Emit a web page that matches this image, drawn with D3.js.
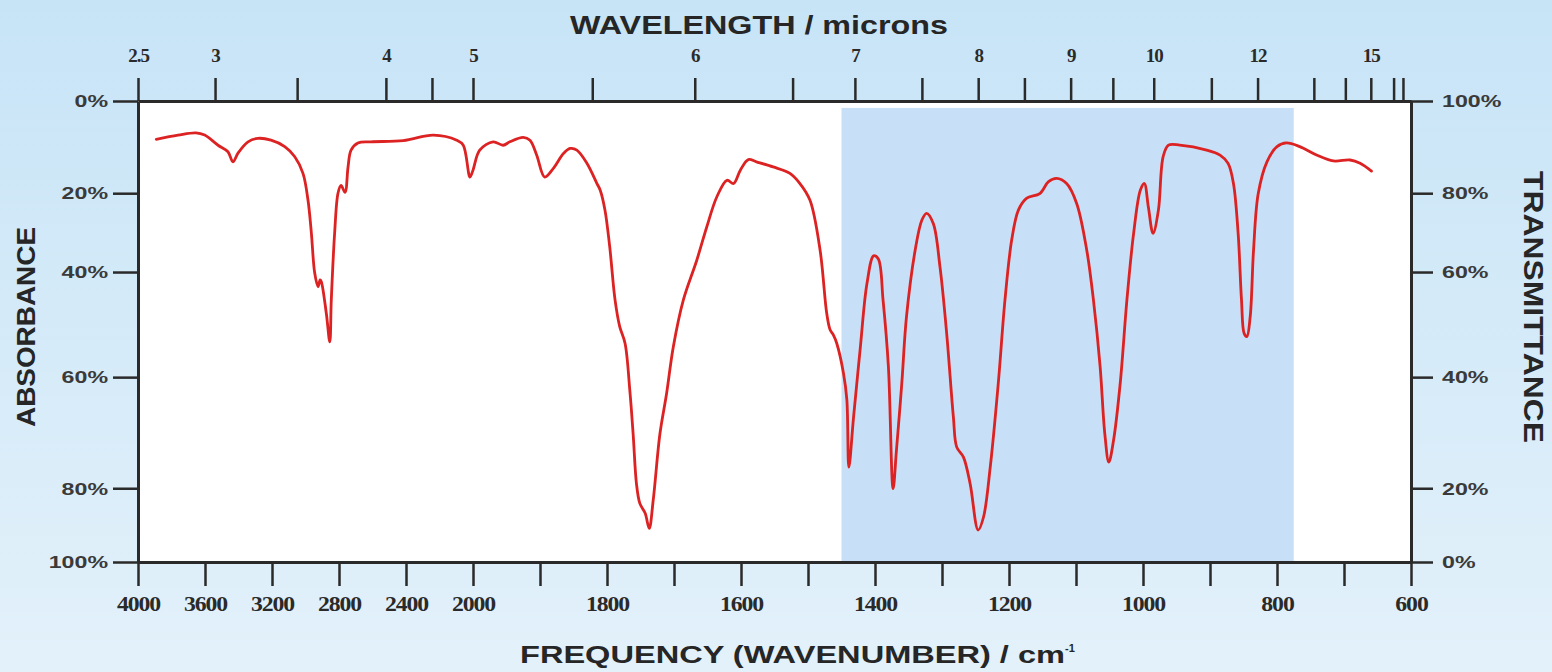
<!DOCTYPE html>
<html>
<head>
<meta charset="utf-8">
<script src="https://cdn.jsdelivr.net/npm/d3@7"></script>
<style>
  html, body { margin: 0; padding: 0; background: #d4ebf8; }
  svg { display: block; }
</style>
</head>
<body>
<svg id="chart" width="1552" height="672"></svg>
<script>
// ---------------- DATA ----------------
const wavenumbers = [
  3891, 3761, 3654, 3602, 3522, 3463, 3433, 3403, 3343, 3284, 3206, 3124, 3064, 3015, 2985, 2965,
  2945, 2925, 2913, 2906, 2876, 2855, 2846, 2826, 2806, 2788, 2764, 2746, 2728, 2687, 2609,
  2416, 2237, 2097, 2058, 2018, 2000, 1990, 1970, 1955, 1945, 1925, 1915, 1905, 1893, 1880,
  1865, 1855, 1845, 1830, 1815, 1810, 1803, 1796, 1788, 1781, 1773, 1766, 1761, 1756, 1751,
  1743, 1737, 1731, 1721, 1711, 1701, 1686, 1666, 1651, 1636, 1621, 1611, 1601, 1589, 1577,
  1552, 1527, 1512, 1497, 1482, 1472, 1467, 1462, 1457, 1447, 1442, 1439, 1432, 1422, 1412,
  1402, 1395, 1388, 1380, 1373, 1368, 1360, 1353, 1340, 1330, 1323, 1313, 1303, 1293, 1283,
  1278, 1268, 1258, 1246, 1238, 1228, 1216, 1206, 1196, 1186, 1174, 1154, 1141, 1129, 1114,
  1099, 1084, 1074, 1064, 1057, 1051, 1044, 1034, 1024, 1014, 1004, 998, 992, 985, 977,
  970, 962, 945, 905, 885, 873, 865, 858, 853, 849, 845, 840, 835, 828, 815, 800, 786,
  766, 741, 716, 691, 676, 659
];
const absorbance = [
  8.3, 7.4, 6.9, 7.4, 9.6, 11.0, 13.2, 11.3, 8.85, 8.1, 8.5, 9.9, 12.1, 15.7, 21.8, 30.1,
  40.2, 42.8, 41.5, 41.8, 47.8, 53.3, 45.3, 30.1, 20.0, 18.3, 19.8, 14.3, 10.65, 9.1, 8.85,
  8.6, 7.4, 8.5, 9.6, 16.5, 15.0, 10.65, 8.85, 9.6, 8.85, 7.9, 8.5, 11.7, 16.5, 14.6,
  11.4, 10.3, 10.65, 13.5, 17.9, 19.4, 24.3, 33.5, 45.3, 50.4, 53.6, 62.3, 70.2, 79.2, 84.1,
  86.8, 90.9, 83.2, 70.2, 62.9, 54.2, 45.3, 37.0, 28.5, 20.9, 17.2, 17.9, 15.0, 12.7, 13.2,
  14.3, 15.7, 17.9, 21.8, 34.4, 47.9, 51.0, 52.0, 53.6, 59.3, 64.1, 76.2, 67.2, 54.5, 42.2,
  35.9, 36.7, 45.3, 58.0, 80.1, 73.2, 61.1, 48.5, 34.4, 26.8, 25.1, 27.7, 38.7, 51.7, 67.2,
  72.6, 74.4, 79.2, 91.35, 87.8, 76.2, 61.1, 45.3, 31.9, 24.3, 21.3, 20.1, 17.5, 16.8, 17.9,
  22.6, 34.4, 45.3, 58.0, 70.2, 75.3, 71.4, 61.1, 45.3, 30.2, 19.35, 17.9, 23.5, 30.2, 24.3,
  12.1, 9.57, 9.57, 10.65, 11.74, 13.54, 17.9, 30.2, 45.3, 51.7, 52.3, 48.5, 34.4, 20.1, 13.2, 9.9, 9.1,
  9.9, 11.7, 13.0, 12.8, 13.5, 15.2
];

const bottomTicks = [4000, 3600, 3200, 2800, 2400, 2000, 1900, 1800, 1700, 1600, 1500, 1400, 1300, 1200, 1100, 1000, 900, 800, 700, 600];
const bottomTickLabels = ["4000", "3600", "3200", "2800", "2400", "2000", "", "1800", "", "1600", "", "1400", "", "1200", "", "1000", "", "800", "", "600"];

const topTickWavenumbers = [4000, 3540, 3050, 2520, 2245, 2000, 1822, 1669, 1523, 1430, 1330, 1246, 1177, 1108, 1045, 984, 898, 829, 745, 698, 660, 626, 612];
const topTickLabels = ["2.5", "3", "", "4", "", "5", "", "6", "", "7", "", "8", "", "9", "", "10", "", "12", "", "", "15", "", ""];

const absorbanceTicks = [0, 20, 40, 60, 80, 100];
const absorbanceLabels = ["0%", "20%", "40%", "60%", "80%", "100%"];
const transmittanceLabels = ["100%", "80%", "60%", "40%", "20%", "0%"];
// the chart's printed absorbance axis is unevenly spaced: fraction of plot height for each tick
const absorbanceTickFractions = [0, 0.2, 0.371, 0.599, 0.84, 1];

const highlightRange = [1450, 775];
const highlightTopAbsorbance = 1.5;

// ---------------- LAYOUT ----------------
const W = 1552, H = 672;
const plotLeft = 138, plotRight = 1411, plotTop = 101, plotBottom = 562;

const svg = d3.select("#chart");
const defs = svg.append("defs");
const grad = defs.append("linearGradient").attr("id", "bg").attr("x1", 0).attr("y1", 0).attr("x2", 0).attr("y2", 1);
grad.append("stop").attr("offset", "0%").attr("stop-color", "#c7e4f7");
grad.append("stop").attr("offset", "100%").attr("stop-color", "#e3f1fa");
svg.append("rect").attr("width", W).attr("height", H).attr("fill", "url(#bg)");

// scales: compressed 4000-2000 region, expanded 2000-600 region
const x = d3.scaleLinear().domain([4000, 2000, 600]).range([plotLeft, 473, plotRight]);
const y = d3.scaleLinear().domain(absorbanceTicks)
  .range(absorbanceTickFractions.map(f => plotTop + f * (plotBottom - plotTop)));

// plot area
svg.append("rect").attr("x", plotLeft).attr("y", plotTop)
  .attr("width", plotRight - plotLeft).attr("height", plotBottom - plotTop).attr("fill", "#ffffff");
svg.append("rect")
  .attr("x", x(highlightRange[0])).attr("y", y(highlightTopAbsorbance))
  .attr("width", x(highlightRange[1]) - x(highlightRange[0]))
  .attr("height", plotBottom - y(highlightTopAbsorbance))
  .attr("fill", "#c8e0f7");

// spectrum line
const pts = wavenumbers.map((w, i) => [w, absorbance[i]]);
const line = d3.line().x(d => x(d[0])).y(d => y(d[1])).curve(d3.curveCatmullRom.alpha(0.5));
svg.append("path").datum(pts).attr("d", line)
  .attr("fill", "none").attr("stroke", "#dc2222").attr("stroke-width", 2.8)
  .attr("stroke-linejoin", "round").attr("stroke-linecap", "round");

// ---------------- AXES ----------------
const axisColor = "#2a2a2a";
function styleAxis(g) {
  g.select(".domain").attr("stroke", axisColor).attr("stroke-width", 3);
  g.selectAll(".tick line").attr("stroke", axisColor).attr("stroke-width", 2.5);
  g.selectAll(".tick text").attr("fill", "#2a2a2a");
}

// bottom wavenumber axis
const gb = svg.append("g").attr("transform", `translate(0,${plotBottom})`)
  .call(d3.axisBottom(x).tickValues(bottomTicks).tickSize(24).tickSizeOuter(0)
    .tickFormat((d, i) => bottomTickLabels[i]));
styleAxis(gb);
gb.selectAll(".tick text")
  .attr("y", 0).attr("dy", 0)
  .attr("transform", "translate(0,49) scale(1.08,1)")
  .style("font-family", "'Liberation Serif', 'Times New Roman', serif")
  .style("font-weight", "bold").style("font-size", "22px").style("letter-spacing", "-1px");

// top wavelength axis
const gt = svg.append("g").attr("transform", `translate(0,${plotTop})`)
  .call(d3.axisTop(x).tickValues(topTickWavenumbers).tickSize(23).tickSizeOuter(0)
    .tickFormat((d, i) => topTickLabels[i]));
styleAxis(gt);
gt.selectAll(".tick text")
  .attr("y", 0).attr("dy", 0)
  .attr("transform", "translate(0,-39)")
  .style("font-family", "'Liberation Serif', 'Times New Roman', serif")
  .style("font-weight", "bold").style("font-size", "19px").style("letter-spacing", "-1px");

// left absorbance axis
const gl = svg.append("g").attr("transform", `translate(${plotLeft},0)`)
  .call(d3.axisLeft(y).tickValues(absorbanceTicks).tickSize(25).tickSizeOuter(0)
    .tickFormat((d, i) => absorbanceLabels[i]));
styleAxis(gl);
gl.selectAll(".tick text")
  .attr("x", 0).attr("dy", "0.36em")
  .attr("transform", "translate(-30,0) scale(1.45,1)")
  .attr("text-anchor", "end")
  .attr("fill", "#3a3a3a")
  .style("font-family", "'Liberation Sans', Arial, sans-serif")
  .style("font-weight", "bold").style("font-size", "16px");

// right transmittance axis
const gr = svg.append("g").attr("transform", `translate(${plotRight},0)`)
  .call(d3.axisRight(y).tickValues(absorbanceTicks).tickSize(22).tickSizeOuter(0)
    .tickFormat((d, i) => transmittanceLabels[i]));
styleAxis(gr);
gr.selectAll(".tick text")
  .attr("x", 0).attr("dy", "0.36em")
  .attr("transform", "translate(31,0) scale(1.45,1)")
  .attr("text-anchor", "start")
  .attr("fill", "#3a3a3a")
  .style("font-family", "'Liberation Sans', Arial, sans-serif")
  .style("font-weight", "bold").style("font-size", "16px");

// axis titles
const titleFont = "'Liberation Sans', Arial, sans-serif";
svg.append("text").text("WAVELENGTH / microns")
  .attr("x", 570).attr("y", 34).attr("textLength", 378).attr("lengthAdjust", "spacingAndGlyphs")
  .attr("fill", "#262626").style("font-family", titleFont).style("font-weight", "bold").style("font-size", "25px");

const bt = svg.append("text").attr("x", 520).attr("y", 663).attr("fill", "#262626")
  .style("font-family", titleFont).style("font-weight", "bold").style("font-size", "24px");
bt.append("tspan").text("FREQUENCY (WAVENUMBER) / cm").attr("textLength", 545).attr("lengthAdjust", "spacingAndGlyphs");
bt.append("tspan").text("-1").attr("dy", -11).style("font-size", "11px");

svg.append("text").text("ABSORBANCE")
  .attr("transform", "translate(35,327) rotate(-90)")
  .attr("text-anchor", "middle").attr("textLength", 200).attr("lengthAdjust", "spacingAndGlyphs")
  .attr("fill", "#262626").style("font-family", titleFont).style("font-weight", "bold").style("font-size", "26px");

svg.append("text").text("TRANSMITTANCE")
  .attr("transform", "translate(1524,307) rotate(90)")
  .attr("text-anchor", "middle").attr("textLength", 272).attr("lengthAdjust", "spacingAndGlyphs")
  .attr("fill", "#262626").style("font-family", titleFont).style("font-weight", "bold").style("font-size", "27px");
</script>
</body>
</html>
